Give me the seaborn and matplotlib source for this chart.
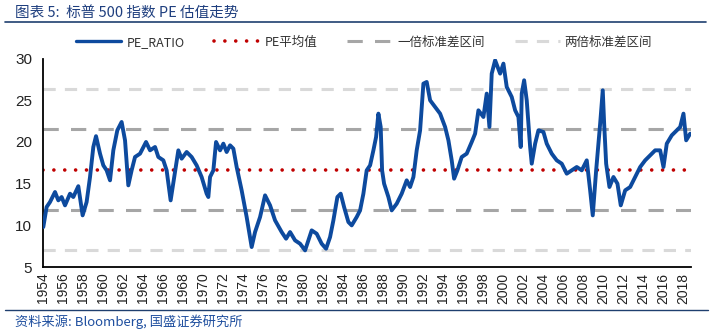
import matplotlib
matplotlib.use("Agg")
import matplotlib.pyplot as plt
import seaborn as sns
import pandas as pd
from matplotlib.lines import Line2D

# ---- data ----
years = [1954.0, 1954.33, 1954.67, 1955.17, 1955.5, 1955.83, 1956.17, 1956.67, 1957.0, 1957.5,
         1957.93, 1958.33, 1958.67, 1959.0, 1959.27, 1959.67, 1960.0, 1960.33, 1960.67, 1961.0,
         1961.4, 1961.83, 1962.17, 1962.5, 1962.83, 1963.17, 1963.67, 1964.27, 1964.67, 1965.17,
         1965.5, 1966.0, 1966.33, 1966.73, 1967.17, 1967.5, 1967.83, 1968.33, 1968.83, 1969.33,
         1969.83, 1970.33, 1970.5, 1970.67, 1971.0, 1971.27, 1971.67, 1972.0, 1972.33, 1972.67,
         1973.0, 1973.33, 1973.83, 1974.33, 1974.83, 1975.17, 1975.67, 1976.17, 1976.67, 1977.17,
         1977.83, 1978.27, 1978.67, 1979.17, 1979.67, 1980.17, 1980.5, 1980.83, 1981.33, 1981.83,
         1982.27, 1982.67, 1983.0, 1983.4, 1983.73, 1984.07, 1984.5, 1984.83, 1985.33, 1985.67,
         1986.0, 1986.33, 1986.67, 1987.0, 1987.27, 1987.5, 1987.73, 1987.87, 1988.07, 1988.5,
         1988.83, 1989.33, 1989.83, 1990.33, 1990.67, 1991.0, 1991.33, 1991.67, 1992.0, 1992.33,
         1992.67, 1993.17, 1993.67, 1994.17, 1994.5, 1994.83, 1995.07, 1995.4, 1995.83, 1996.33,
         1996.83, 1997.17, 1997.5, 1998.0, 1998.33, 1998.6, 1998.83, 1999.17, 1999.67, 2000.0,
         2000.33, 2000.83, 2001.17, 2001.5, 2001.73, 2001.83, 2002.07, 2002.33, 2002.67, 2002.83,
         2003.17, 2003.5, 2004.0, 2004.33, 2004.83, 2005.33, 2005.83, 2006.33, 2006.83, 2007.33,
         2007.83, 2008.33, 2008.67, 2008.93, 2009.27, 2009.67, 2009.93, 2010.07, 2010.27, 2010.6,
         2011.0, 2011.4, 2011.73, 2012.17, 2012.67, 2013.17, 2013.67, 2014.17, 2014.67, 2015.17,
         2015.67, 2016.0, 2016.33, 2016.83, 2017.33, 2017.67, 2018.0, 2018.27, 2018.67]
pe_ratio = [9.8, 12.2, 12.8, 14.0, 13.0, 13.4, 12.4, 13.8, 13.4, 14.7,
            11.2, 12.8, 15.8, 19.4, 20.7, 18.6, 17.2, 16.6, 15.4, 19.0,
            21.4, 22.4, 20.2, 14.8, 16.6, 18.2, 18.6, 20.0, 19.0, 19.4,
            18.2, 17.8, 16.6, 13.0, 16.4, 19.0, 18.0, 18.8, 18.2, 17.2,
            15.8, 13.8, 13.4, 15.8, 16.6, 20.0, 19.0, 19.8, 18.8, 19.6,
            19.2, 17.0, 14.2, 11.0, 7.4, 9.2, 11.0, 13.6, 12.4, 10.6,
            9.2, 8.4, 9.2, 8.2, 7.8, 7.0, 8.2, 9.4, 9.0, 7.8,
            7.2, 8.6, 10.6, 13.4, 13.8, 12.2, 10.4, 10.0, 11.0, 11.8,
            13.8, 16.6, 17.2, 19.0, 20.6, 23.4, 21.8, 16.6, 15.0, 13.4,
            11.8, 12.6, 13.8, 15.4, 14.6, 15.8, 19.0, 21.4, 27.0, 27.2,
            25.0, 24.2, 23.4, 21.8, 20.2, 17.8, 15.6, 16.6, 18.2, 18.6,
            20.0, 21.0, 23.8, 23.0, 25.8, 21.8, 28.2, 29.8, 28.2, 29.4,
            26.6, 25.4, 23.8, 23.0, 19.4, 25.8, 27.4, 25.0, 19.4, 17.4,
            19.8, 21.4, 21.2, 19.8, 18.6, 17.8, 17.4, 16.2, 16.6, 17.0,
            16.6, 17.8, 14.2, 11.2, 16.6, 22.2, 26.2, 22.2, 17.4, 14.6,
            15.8, 15.0, 12.4, 14.2, 14.6, 15.8, 17.0, 17.8, 18.4, 19.0,
            19.0, 17.0, 19.8, 20.8, 21.4, 21.8, 23.4, 20.2, 21.0]
pe_mean = 16.7
band_1sd = [11.9, 21.5]
band_2sd = [7.1, 26.3]
x_ticks = list(range(1954, 2019, 2))
y_ticks = [5, 10, 15, 20, 25, 30]
legend_labels = ["PE_RATIO", "PE平均值", "一倍标准差区间", "两倍标准差区间"]
title_text = "图表 5:  标普 500 指数 PE 估值走势"
source_text = "资料来源: Bloomberg, 国盛证券研究所"

df = pd.DataFrame({"year": years, "pe": pe_ratio})

sns.set_style("white")
plt.rcParams["font.family"] = ["Liberation Sans", "Noto Sans CJK SC", "DejaVu Sans"]
cjk = ["Noto Sans CJK SC", "DejaVu Sans"]

fig = plt.figure(figsize=(7.17, 3.33), dpi=100)
ax = fig.add_axes([0.0604, 0.198, 0.904, 0.626])

blue = "#0D4A9E"
red = "#C00000"
gray1 = "#A6A6A6"
gray2 = "#D9D9D9"

ax.axhline(band_2sd[0], color=gray2, lw=2.2, dashes=(4, 3), zorder=1)
ax.axhline(band_2sd[1], color=gray2, lw=2.2, dashes=(4, 3), zorder=1)
ax.axhline(band_1sd[0], color=gray1, lw=2.2, dashes=(5, 4), zorder=1)
ax.axhline(band_1sd[1], color=gray1, lw=2.2, dashes=(5, 4), zorder=1)
ax.axhline(pe_mean, color=red, lw=2.6, dashes=(0.01, 3.0), dash_capstyle="round", zorder=2)

sns.lineplot(data=df, x="year", y="pe", ax=ax, color=blue, lw=2.8, zorder=3)

ax.set_xlim(1954, 2018.8)
ax.set_ylim(5, 30)
ax.set_xticks(x_ticks)
ax.set_xticklabels([str(t) for t in x_ticks], rotation=90, fontsize=10, color="#222222")
ax.set_yticks(y_ticks)
ax.set_yticklabels([str(t) for t in y_ticks], fontsize=11, color="#222222")
ax.set_xlabel("")
ax.set_ylabel("")
for s in ["top", "right"]:
    ax.spines[s].set_visible(False)
for s in ["left", "bottom"]:
    ax.spines[s].set_color("black")
    ax.spines[s].set_linewidth(1.3)
ax.tick_params(axis="both", direction="in", length=4, width=1.1, color="black")
ax.tick_params(axis="y", pad=8)
ax.tick_params(axis="x", pad=4)

handles = [
    Line2D([], [], color=blue, lw=2.4),
    Line2D([], [], color=red, lw=2.6, dashes=(0.01, 3.0), dash_capstyle="round"),
    Line2D([], [], color=gray1, lw=2.2, dashes=(5, 4)),
    Line2D([], [], color=gray2, lw=2.2, dashes=(4, 3)),
]
leg = fig.legend(handles, legend_labels, loc="center", bbox_to_anchor=(0.508, 0.873), ncol=4,
                 frameon=False, handlelength=3.6, columnspacing=2.4, handletextpad=0.4,
                 prop={"family": cjk, "size": 9})
for t in leg.get_texts():
    t.set_color("#333333")

# header / footer decorations
fig.text(0.021, 0.963, title_text, fontsize=10.5, color="#1F3F7F", style="italic",
         family=cjk, va="center", ha="left")
fig.add_artist(Line2D([0.007, 0.985], [0.934, 0.934], color="#1F3F6F", lw=1.2))
fig.add_artist(Line2D([0.007, 0.987], [0.069, 0.069], color="#1F3F6F", lw=1.0))
fig.text(0.021, 0.033, source_text, fontsize=9.5, color="#1F4F9F", style="italic",
         family=cjk, va="center", ha="left")

fig.savefig("out.png", dpi=100, facecolor="white")
